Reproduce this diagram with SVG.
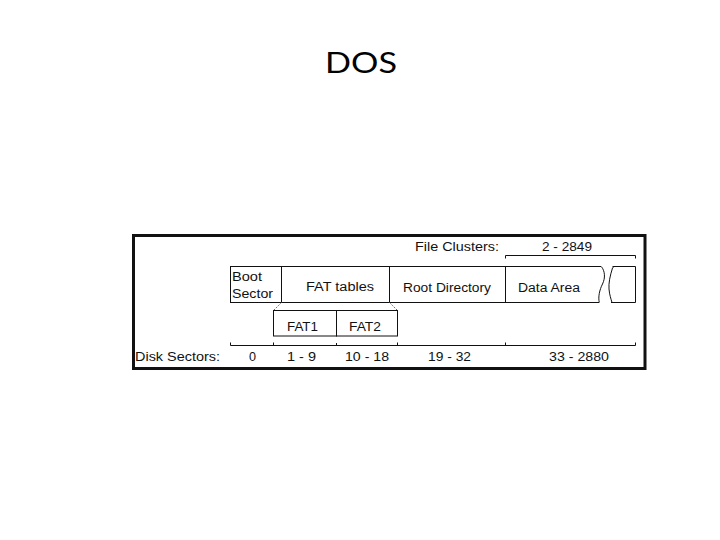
<svg xmlns="http://www.w3.org/2000/svg" width="720" height="540" viewBox="0 0 720 540">
<style>
.t{font-family:"Liberation Sans",Arial,sans-serif;font-size:12.5px;fill:#111}
.ln{stroke:#111;stroke-width:1;fill:none}
.dash{stroke:#555;stroke-width:1;stroke-dasharray:1.5 1.5;fill:none}
.title{font-family:Lato,"Liberation Sans",sans-serif;font-size:29px;fill:#000}
</style>
<rect width="720" height="540" fill="#fff"/>
<text class="title" x="325" y="73" textLength="72" lengthAdjust="spacingAndGlyphs">DOS</text>
<rect x="133.5" y="235.5" width="511.5" height="133" fill="#fff" stroke="#111" stroke-width="3"/>

<g id="file-clusters">
<text class="t" x="415" y="251" textLength="84" lengthAdjust="spacingAndGlyphs">File Clusters:</text>
<text class="t" x="542" y="251" textLength="50" lengthAdjust="spacingAndGlyphs">2 - 2849</text>
<path class="ln" d="M505.5 258.5V255.5H635.5V258.5"/>
</g>

<g id="boot-sector">
<rect class="ln" x="230.5" y="266.5" width="51" height="36"/>
<text class="t" x="232" y="281" textLength="30" lengthAdjust="spacingAndGlyphs">Boot</text>
<text class="t" x="232" y="298" textLength="41" lengthAdjust="spacingAndGlyphs">Sector</text>
</g>

<g id="fat-tables">
<rect class="ln" x="281.5" y="266.5" width="108" height="36"/>
<text class="t" x="306" y="291" textLength="68" lengthAdjust="spacingAndGlyphs">FAT tables</text>
</g>

<g id="root-directory">
<rect class="ln" x="389.5" y="266.5" width="116" height="36"/>
<text class="t" x="403" y="292" textLength="88" lengthAdjust="spacingAndGlyphs">Root Directory</text>
</g>

<g id="data-area">
<path class="ln" d="M601 266.5H505.5V302.5H599"/>
<path class="ln" d="M612.5 266.5H635.5V302.5H611"/>
<path class="ln" d="M601.3 266.5C605 271 605.5 278 602.5 284C599.5 290 598 297 599.3 302.5"/>
<path class="ln" d="M614 266.5L612.5 268C610 276 608.5 283 609 289C609.5 295 611 299 612 302.5"/>
<text class="t" x="518" y="292" textLength="62" lengthAdjust="spacingAndGlyphs">Data Area</text>
</g>

<g id="fat1">
<rect class="ln" x="273.5" y="310.5" width="63" height="25.5"/>
<text class="t" x="287" y="331" textLength="31" lengthAdjust="spacingAndGlyphs">FAT1</text>
</g>

<g id="fat2">
<rect class="ln" x="336.5" y="310.5" width="61" height="25.5"/>
<text class="t" x="349" y="331" textLength="32" lengthAdjust="spacingAndGlyphs">FAT2</text>
</g>

<g id="connectors">
<path class="dash" d="M281.5 302.5L273.5 310.5"/>
<path class="dash" d="M389.5 302.5L397.5 310.5"/>
</g>

<g id="disk-sectors">
<path class="ln" d="M230.5 345.5H635.5M230.5 342.5V345.5M273.5 342.5V345.5M336.5 343V345.5M397.5 342.5V345.5M505.5 342.5V345.5M635.5 342.5V345.5"/>
<text class="t" x="135" y="361" textLength="85" lengthAdjust="spacingAndGlyphs">Disk Sectors:</text>
<text class="t" x="249" y="361" textLength="7" lengthAdjust="spacingAndGlyphs">0</text>
<text class="t" x="287" y="361" textLength="29" lengthAdjust="spacingAndGlyphs">1 - 9</text>
<text class="t" x="345" y="361" textLength="44" lengthAdjust="spacingAndGlyphs">10 - 18</text>
<text class="t" x="428" y="361" textLength="43" lengthAdjust="spacingAndGlyphs">19 - 32</text>
<text class="t" x="549" y="361" textLength="60" lengthAdjust="spacingAndGlyphs">33 - 2880</text>
</g>
</svg>
